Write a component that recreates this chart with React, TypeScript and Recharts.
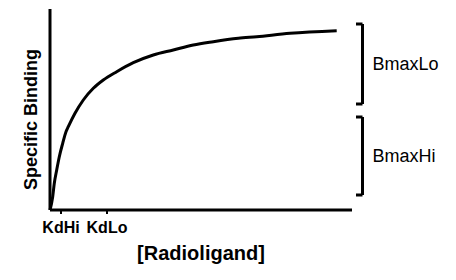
import { LineChart, Line, XAxis, YAxis, ReferenceLine, Label } from 'recharts';

// curve (x in [0,302], y in [0,201])
const concentration = [0, 2.7, 4.3, 6.7, 9.3, 12.7, 16, 18.3, 25, 33.3, 43.3, 53.3, 66.7, 83.3, 103.3, 123.3, 143.3, 163.3, 188.3, 206.7, 240, 286.7];
const binding = [0, 13.3, 26.7, 40, 53.3, 66.7, 78.3, 83.3, 96.7, 110, 121.7, 130, 138.3, 147.3, 155, 160, 165, 168.3, 171.7, 173.3, 176.7, 179.3];

const tickValues = [11, 57];
const tickLabels = ['KdHi', 'KdLo'];

const bracketLabels = ['BmaxLo', 'BmaxHi'];
const bracketLows = [106, 15];
const bracketHighs = [186, 93];
const bracketX = 312.5;
const bracketSerif = 306;

const FONT = 'Arial, "Liberation Sans", sans-serif';

const data = concentration.map((x, i) => ({ x, y: binding[i] }));

export default function App() {
  return (
    <div style={{ position: 'absolute', left: 0, top: 0, width: 456, height: 280, background: '#fff' }}>
      <LineChart width={456} height={280} data={data} margin={{ top: 9, right: 104, bottom: 20, left: 10 }}>
        <XAxis
          dataKey="x"
          type="number"
          domain={[0, 302]}
          ticks={tickValues}
          tickFormatter={(v: number) => tickLabels[tickValues.indexOf(v)]}
          height={50}
          axisLine={{ stroke: '#000', strokeWidth: 3 }}
          tickLine={{ stroke: '#000', strokeWidth: 2 }}
          tickSize={4}
          tickMargin={8}
          tick={{ fill: '#000', fontSize: 16, fontWeight: 'bold', fontFamily: FONT }}
        >
          <Label
            content={(props: any) => {
              const { x, y, width } = props.viewBox;
              return (
                <text x={x + width / 2} y={y + 50} textAnchor="middle" fill="#000" fontSize={20} fontWeight="bold" fontFamily={FONT}>
                  [Radioligand]
                </text>
              );
            }}
          />
        </XAxis>
        <YAxis
          type="number"
          domain={[0, 201]}
          width={40}
          tick={false}
          tickLine={false}
          axisLine={{ stroke: '#000', strokeWidth: 3 }}
        >
          <Label
            content={(props: any) => {
              const { x, y, height } = props.viewBox;
              const cx = x + 27;
              const cy = y + height / 2 + 10;
              return (
                <text x={cx} y={cy} transform={`rotate(-90, ${cx}, ${cy})`} textAnchor="middle" fill="#000" fontSize={18} fontWeight="bold" fontFamily={FONT}>
                  Specific Binding
                </text>
              );
            }}
          />
        </YAxis>
        {bracketLabels.map((name, i) => (
          <ReferenceLine
            key={name}
            segment={[{ x: bracketX, y: bracketLows[i] }, { x: bracketX, y: bracketHighs[i] }]}
            ifOverflow="visible"
            stroke="#000"
            strokeWidth={3}
            label={{ value: name, position: 'right', offset: 10, fill: '#000', fontSize: 18, fontFamily: FONT }}
          />
        ))}
        {bracketLabels.map((name, i) => (
          <ReferenceLine
            key={name + '-top'}
            segment={[{ x: bracketSerif, y: bracketHighs[i] }, { x: bracketX, y: bracketHighs[i] }]}
            ifOverflow="visible"
            stroke="#000"
            strokeWidth={3}
          />
        ))}
        {bracketLabels.map((name, i) => (
          <ReferenceLine
            key={name + '-bottom'}
            segment={[{ x: bracketSerif, y: bracketLows[i] }, { x: bracketX, y: bracketLows[i] }]}
            ifOverflow="visible"
            stroke="#000"
            strokeWidth={3}
          />
        ))}
        <Line type="monotone" dataKey="y" stroke="#000" strokeWidth={3} dot={false} isAnimationActive={false} />
      </LineChart>
    </div>
  );
}
